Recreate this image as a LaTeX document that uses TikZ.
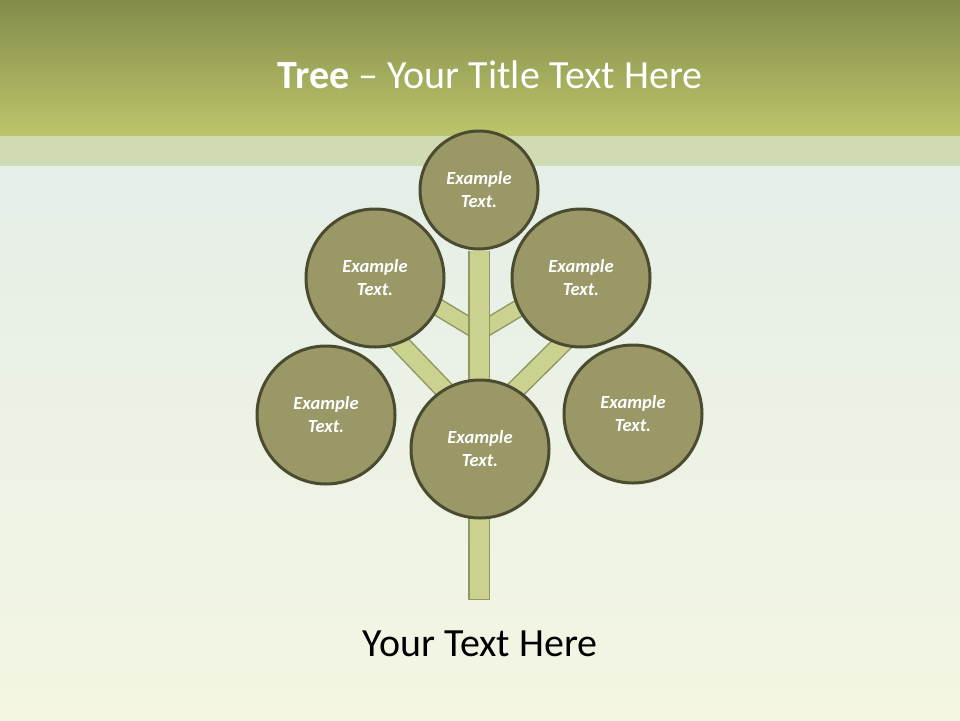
\documentclass[tikz,border=0pt]{standalone}
\usepackage{fontspec}
\setmainfont{Carlito}
\usetikzlibrary{calc}
\definecolor{bannertop}{HTML}{848B4B}
\definecolor{bannerbot}{HTML}{BDC56B}
\definecolor{bandcol}{HTML}{D1DBB3}
\definecolor{bodytop}{HTML}{E5EEE7}
\definecolor{bodybot}{HTML}{F4F6E3}
\definecolor{leaffill}{HTML}{9A9866}
\definecolor{leafedge}{HTML}{4B4B30}
\definecolor{branchfill}{HTML}{CBD290}
\definecolor{branchedge}{HTML}{8F9862}
\pgfdeclarelayer{backdrop}
\pgfdeclarelayer{wood}
\pgfsetlayers{backdrop,wood,main}

\begin{document}
\begin{tikzpicture}[x=1pt,y=-1pt,
  leaf/.style={circle, fill=leaffill, draw=leafedge, line width=3pt,
    minimum size=#1, inner sep=0pt, align=center, text=white,
    font=\fontsize{18.5}{23}\selectfont\bfseries\itshape},
  leaf/.default=138pt,
  branch/.style={line width=#1, draw=branchedge, line cap=butt,
    postaction={draw=branchfill, line width=#1-3pt, shorten <=1.5pt}},
  branch/.default=18pt]
\useasboundingbox (0,0) rectangle (960,720);
\begin{pgfonlayer}{backdrop}
\shade[top color=bannertop, bottom color=bannerbot] (0,0) rectangle (960,136);
\fill[bandcol] (0,136) rectangle (960,166);
\shade[top color=bodytop, bottom color=bodybot] (0,166) rectangle (960,720);
\end{pgfonlayer}

\node[text=white, font=\fontsize{40}{46}\selectfont] (title) at (490,75)
  {\textbf{Tree} -- Your Title Text Here};

\node[leaf=118pt] (top) at (479,190) {Example\\Text.};
\node[leaf] (upleft) at (375,278) {Example\\Text.};
\node[leaf] (upright) at (581,278) {Example\\Text.};
\node[leaf] (left) at (326,415) {Example\\Text.};
\node[leaf] (right) at (633,414) {Example\\Text.};
\node[leaf] (base) at (480,449) {Example\\Text.};

\coordinate (root) at (479,600);
\coordinate (fork) at (479,426);
\coordinate (twig) at (479,332);

\begin{pgfonlayer}{wood}
\draw[branch=20pt] (fork) -- ($(fork)!1.15!(upleft.-69)$);
\draw[branch=20pt] (fork) -- ($(fork)!1.15!(upright.-107)$);
\draw[branch] (twig) -- ($(twig)!1.25!(upleft.-25)$);
\draw[branch] (twig) -- ($(twig)!1.25!(upright.-154)$);
\draw[branch=22pt] (root) -- (top);
\end{pgfonlayer}

\node[font=\fontsize{40}{46}\selectfont, anchor=base] (caption) at (480,656) {Your Text Here};
\end{tikzpicture}
\end{document}
